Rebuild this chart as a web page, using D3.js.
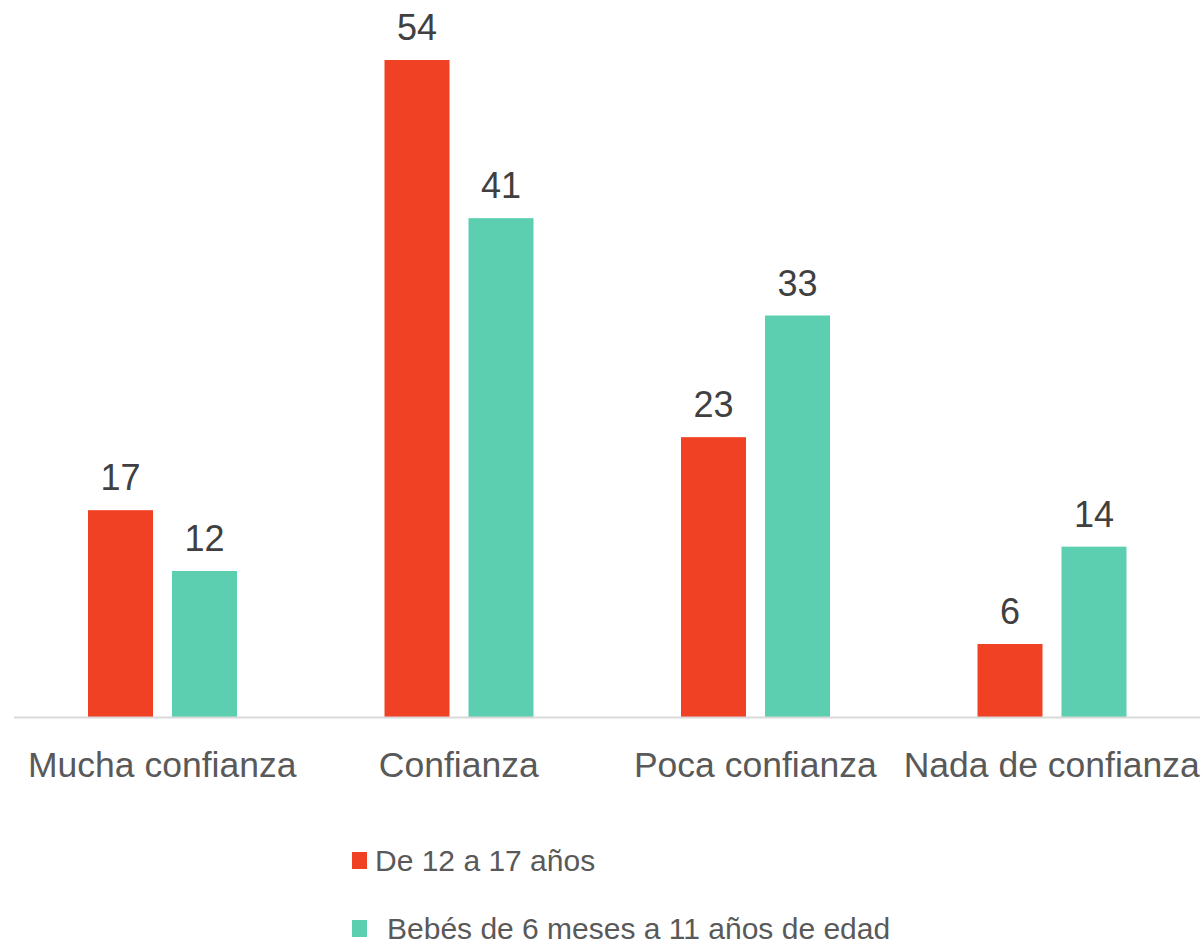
<!DOCTYPE html>
<html>
<head>
<meta charset="utf-8">
<script src="https://cdn.jsdelivr.net/npm/d3@7"></script>
<style>
  html, body { margin: 0; padding: 0; background: #fff; }
  svg { display: block; font-family: "Liberation Sans", Arial, sans-serif; }
</style>
</head>
<body>
<div id="chart"></div>
<script>
// datos del gráfico
const categories = ['Mucha confianza', 'Confianza', 'Poca confianza', 'Nada de confianza'];
const seriesNames = ['De 12 a 17 años', 'Bebés de 6 meses a 11 años de edad'];
const adolescentes = [17, 54, 23, 6];
const bebes = [12, 41, 33, 14];
const seriesColors = ['#F04125', '#5DCFB1'];

const width = 1202, height = 943;
const baseline = 717;

const svg = d3.select('#chart').append('svg')
    .attr('width', width)
    .attr('height', height);

const x = d3.scaleBand()
    .domain(categories)
    .range([14, 1200]);

const xInner = d3.scaleBand()
    .domain([0, 1])
    .range([74, 223])
    .paddingInner(0.226);

const y = d3.scaleLinear()
    .domain([0, 54])
    .range([baseline, 60]);

const rows = categories.map((c, i) => ({
    cat: c,
    values: [adolescentes[i], bebes[i]]
}));

// barras
const groups = svg.append('g')
    .selectAll('g')
    .data(rows)
    .join('g')
    .attr('transform', d => `translate(${x(d.cat)},0)`);

groups.selectAll('rect')
    .data(d => d.values.map((v, k) => ({ v, k })))
    .join('rect')
    .attr('x', d => xInner(d.k))
    .attr('y', d => y(d.v))
    .attr('width', xInner.bandwidth())
    .attr('height', d => y(0) - y(d.v))
    .attr('fill', d => seriesColors[d.k]);

// etiquetas de valor
groups.selectAll('text.val')
    .data(d => d.values.map((v, k) => ({ v, k })))
    .join('text')
    .attr('class', 'val')
    .attr('x', d => xInner(d.k) + xInner.bandwidth() / 2)
    .attr('y', d => y(d.v) - 20)
    .attr('text-anchor', 'middle')
    .attr('font-size', 36)
    .attr('fill', '#404040')
    .text(d => d.v);

// eje x
svg.append('line')
    .attr('x1', 14).attr('x2', 1200)
    .attr('y1', baseline + 0.5).attr('y2', baseline + 0.5)
    .attr('stroke', '#D9D9D9')
    .attr('stroke-width', 2);

svg.append('g')
    .selectAll('text')
    .data(categories)
    .join('text')
    .attr('x', d => x(d) + x.bandwidth() / 2)
    .attr('y', 777)
    .attr('text-anchor', 'middle')
    .attr('font-size', 35.5)
    .attr('fill', '#595959')
    .text(d => d);

// leyenda
const legend = svg.append('g')
    .selectAll('g')
    .data(seriesNames)
    .join('g')
    .attr('transform', (d, i) => `translate(352,${852 + i * 68})`);

legend.append('rect')
    .attr('width', 15)
    .attr('height', 17)
    .attr('fill', (d, i) => seriesColors[i]);

legend.append('text')
    .attr('x', (d, i) => i === 0 ? 23 : 35)
    .attr('y', 19)
    .attr('font-size', 30)
    .attr('fill', '#595959')
    .text(d => d);
</script>
</body>
</html>
